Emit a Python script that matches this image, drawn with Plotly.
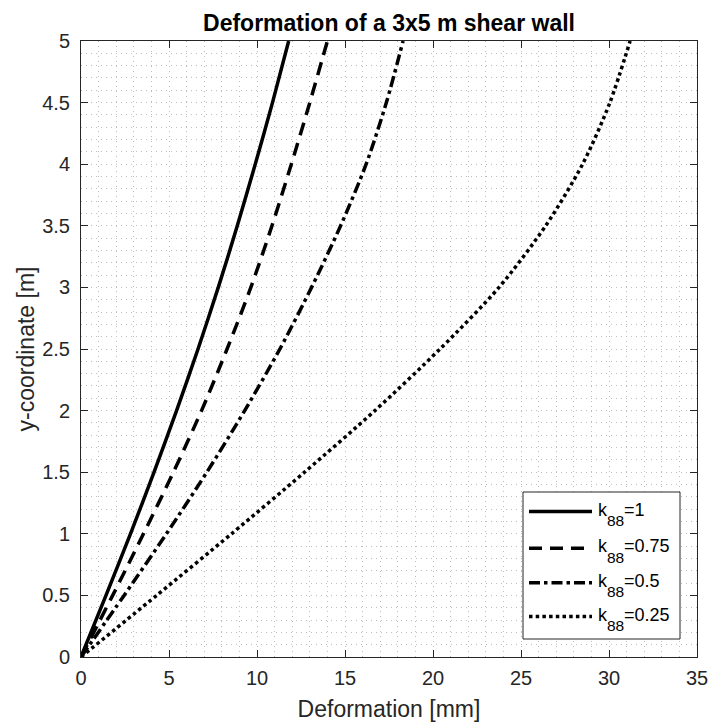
import plotly.graph_objects as go

# ---- data ----
y_coord = [0, 0.5, 1, 1.5, 2, 2.5, 3, 3.5, 4, 4.5, 5]
defl_k1 = [0, 1.42, 2.81, 4.15, 5.43, 6.65, 7.80, 8.88, 9.90, 10.88, 11.80]
defl_k075 = [0, 1.80, 3.55, 5.25, 6.85, 8.30, 9.65, 10.85, 11.95, 13.0, 14.0]
defl_k05 = [0, 2.45, 4.85, 7.15, 9.30, 11.30, 13.10, 14.75, 16.20, 17.35, 18.30]
defl_k025 = [0, 4.30, 8.55, 12.70, 16.70, 20.40, 23.75, 26.40, 28.50, 30.05, 31.20]
k88_values = ["1", "0.75", "0.5", "0.25"]
x_ticks = [0, 5, 10, 15, 20, 25, 30, 35]
y_ticks = [0, 0.5, 1, 1.5, 2, 2.5, 3, 3.5, 4, 4.5, 5]
y_tick_text = ["0", "0.5", "1", "1.5", "2", "2.5", "3", "3.5", "4", "4.5", "5"]

series = [defl_k1, defl_k075, defl_k05, defl_k025]
dashes = ["solid", "13px,8px", "11px,4px,3.5px,4px", "3.5px,3.2px"]

FONT = "Liberation Sans, Arial, Helvetica, sans-serif"
AX = "#262626"
GRID = "#bdbdbd"

fig = go.Figure()
for xs, kv, dsh in zip(series, k88_values, dashes):
    fig.add_trace(go.Scatter(
        x=xs, y=y_coord, mode="lines", name=f"k88={kv}",
        line=dict(color="black", width=3.5, dash=dsh, shape="spline", smoothing=0.8),
        showlegend=False,
    ))

axis_common = dict(
    ticks="inside", ticklen=7, tickwidth=1, tickcolor=AX,
    showline=True, linecolor=AX, linewidth=1, mirror="ticks",
    showgrid=True, gridcolor=GRID, griddash="1px,4px", gridwidth=1,
    zeroline=False, tickfont=dict(family=FONT, size=20, color=AX),
)

fig.update_xaxes(
    range=[0, 35], tickvals=x_ticks,
    minor=dict(dtick=1, tick0=0, showgrid=True, gridcolor=GRID, griddash="1px,4px", gridwidth=1, ticks=""),
    title=dict(text="Deformation [mm]", font=dict(family=FONT, size=23, color=AX), standoff=12),
    ticklabelstandoff=3,
    **axis_common,
)
fig.update_yaxes(
    range=[0, 5], tickvals=y_ticks, ticktext=y_tick_text,
    minor=dict(dtick=0.1, tick0=0, showgrid=True, gridcolor=GRID, griddash="1px,4px", gridwidth=1, ticks=""),
    title=dict(text="y-coordinate [m]", font=dict(family=FONT, size=23, color=AX), standoff=1),
    ticklabelstandoff=6,
    **axis_common,
)

# ---- legend box drawn in the MATLAB style (paper coordinates of the plot area) ----
PL, PT, PW = 81, 41, 616.0  # plot area left/top and size in px (square)
def px_x(px):
    return (px - PL) / PW
def px_y(py):
    return (PT + PW - py) / PW

shapes = [dict(type="rect", xref="paper", yref="paper",
               x0=px_x(523), x1=px_x(680), y0=px_y(639), y1=px_y(492),
               line=dict(color=AX, width=1), fillcolor="white", layer="above")]
annotations = []
row_py = [511.5, 548.2, 582.7, 616.5]
MAIN = 18
SUB = 15.5
for py, kv, dsh in zip(row_py, k88_values, dashes):
    yp = px_y(py)
    shapes.append(dict(type="line", xref="paper", yref="paper",
                       x0=px_x(529), x1=px_x(592), y0=yp, y1=yp,
                       line=dict(color="black", width=3.5, dash=dsh), layer="above"))
    x_k = 597
    x_sub = x_k + 0.5 * MAIN
    x_rest = x_sub + 1.112 * SUB
    annotations.append(dict(xref="paper", yref="paper", x=px_x(x_k), y=yp, text="k",
                            xanchor="left", yanchor="middle", showarrow=False, yshift=2,
                            borderpad=0, font=dict(family=FONT, size=MAIN, color="black")))
    annotations.append(dict(xref="paper", yref="paper", x=px_x(x_sub), y=yp, text="88",
                            xanchor="left", yanchor="middle", showarrow=False, yshift=-9,
                            borderpad=0, font=dict(family=FONT, size=SUB, color="black")))
    annotations.append(dict(xref="paper", yref="paper", x=px_x(x_rest), y=yp, text="=" + kv,
                            xanchor="left", yanchor="middle", showarrow=False, yshift=2,
                            borderpad=0, font=dict(family=FONT, size=MAIN, color="black")))

W, H = 709, 722
fig.update_layout(
    width=W, height=H,
    margin=dict(l=PL, r=W - PL - int(PW), t=PT, b=H - PT - int(PW), autoexpand=False),
    paper_bgcolor="white", plot_bgcolor="white",
    title=dict(text="<b>Deformation of a 3x5 m shear wall</b>",
               font=dict(family=FONT, size=23, color="black"),
               x=0.5, xref="paper", xanchor="center",
               y=1 - 22.5 / H, yref="container", yanchor="middle"),
    shapes=shapes,
    annotations=annotations,
    showlegend=False,
    hovermode=False,
)

fig.write_html(
    "out.html",
    config={"displayModeBar": False, "staticPlot": True},
    post_script="document.body.style.margin='0';document.documentElement.style.overflow='hidden';",
)
